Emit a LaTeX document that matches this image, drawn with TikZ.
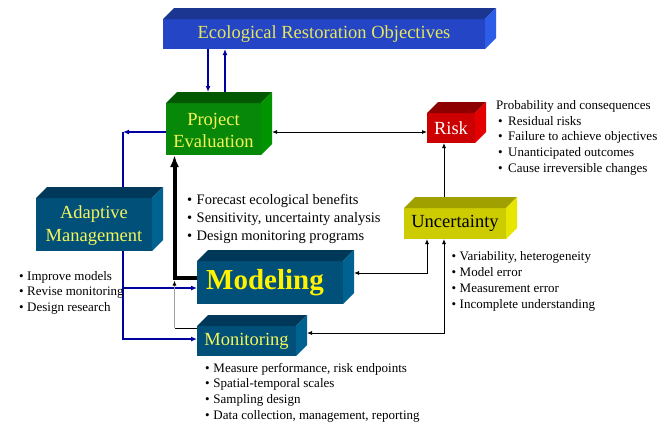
\documentclass[tikz,border=0pt]{standalone}
\usepackage{fontspec}
\setmainfont{Liberation Serif}
\usetikzlibrary{arrows.meta,calc}
\definecolor{eroF}{HTML}{2446C6}
\definecolor{eroTop}{HTML}{1A3690}
\definecolor{eroSide}{HTML}{2C5CE8}
\definecolor{eroT}{HTML}{E6E65C}
\definecolor{peF}{HTML}{088808}
\definecolor{peTop}{HTML}{005800}
\definecolor{peSide}{HTML}{009400}
\definecolor{tealF}{HTML}{00507A}
\definecolor{tealTop}{HTML}{00385A}
\definecolor{tealSide}{HTML}{006290}
\definecolor{uncF}{HTML}{CCCC00}
\definecolor{uncTop}{HTML}{A0A000}
\definecolor{uncSide}{HTML}{E6E600}
\definecolor{riskF}{HTML}{CC0000}
\definecolor{riskTop}{HTML}{8E0000}
\definecolor{riskSide}{HTML}{E40000}
\definecolor{boxT}{HTML}{F5F55A}
\definecolor{navy}{HTML}{0000A0}
\definecolor{lgray}{HTML}{A0A0A0}
\newcommand{\cubefaces}[3]{%
  \fill[#2] (#1.north west) -- ++(11,-11) -- ($(#1.north east)+(11,-11)$) -- (#1.north east) -- cycle;
  \fill[#3] (#1.north east) -- ++(11,-11) -- ($(#1.south east)+(11,-11)$) -- (#1.south east) -- cycle;}
\newcommand{\bulit}[1]{\makebox[#1][l]{\textbullet}}
\begin{document}
\begin{tikzpicture}[x=1pt,y=-1pt,
  box/.style={inner sep=0pt, outer sep=0pt, align=center, font=\fontsize{18.5}{22.5}\selectfont},
  nav/.style={draw=navy, line width=2pt},
  navarrow/.style={nav, -{Latex[length=6pt,width=5pt]}},
  thinline/.style={draw=black, line width=0.8pt},
  thinarrow/.style={thinline, -{Latex[length=5pt,width=4pt]}},
  thinboth/.style={thinline, {Latex[length=5pt,width=4pt]}-{Latex[length=5pt,width=4pt]}},
  thickarrow/.style={draw=black, line width=4pt, -{Latex[length=12pt,width=9pt]}},
  lst/.style={anchor=base west, align=left, inner sep=0pt, font=\fontsize{13}{15.8}\selectfont}]
\fill[white] (0,0) rectangle (668,424);
\useasboundingbox (0,0) rectangle (668,424);

% boxes
\node[box, fill=eroF, text=eroT, minimum width=322pt, minimum height=30pt] (ero) at (324,34) {Ecological Restoration Objectives};
\cubefaces{ero}{eroTop}{eroSide}
\node[box, fill=peF, text=boxT, minimum width=95pt, minimum height=52pt] (pe) at (213.5,129) {\rule{0pt}{15pt}Project\\Evaluation};
\cubefaces{pe}{peTop}{peSide}
\node[box, fill=tealF, text=boxT, minimum width=116pt, minimum height=53pt] (am) at (94,224.5) {\rule{0pt}{15pt}Adaptive\\Management};
\cubefaces{am}{tealTop}{tealSide}
\node[box, fill=tealF, text=yellow, minimum width=146pt, minimum height=43pt, font=\fontsize{29}{32}\selectfont\bfseries] (mod) at (270,282.5) {Modeling\hspace*{10pt}};
\cubefaces{mod}{tealTop}{tealSide}
\node[box, fill=tealF, text=boxT, minimum width=99pt, minimum height=30pt] (mon) at (246.5,341) {Monitoring};
\cubefaces{mon}{tealTop}{tealSide}
\node[box, fill=uncF, text=black, minimum width=102pt, minimum height=31pt] (unc) at (455,223.5) {Uncertainty};
\cubefaces{unc}{uncTop}{uncSide}
\node[box, fill=riskF, text=white, minimum width=48pt, minimum height=30pt] (risk) at (451,128) {Risk};
\cubefaces{risk}{riskTop}{riskSide}

% anchor coordinates
\coordinate (peT1) at ($(pe.north)+(-5.5,-11)$);
\coordinate (peT2) at ($(pe.north)+(11.5,-11)$);
\coordinate (peW) at ($(pe.west)+(0,3)$);
\coordinate (peE) at ($(pe.east)+(11,3)$);
\coordinate (peB) at ($(pe.south)+(-39,0)$);
\coordinate (amT) at ($(am.north)+(29,-11)$);
\coordinate (amB) at ($(am.south)+(29,0)$);
\coordinate (modW) at ($(mod.west)+(0,5.5)$);
\coordinate (modW2) at ($(mod.west)+(0,-4.5)$);
\coordinate (modW3) at ($(mod.west)+(0,-2)$);
\coordinate (modE) at ($(mod.east)+(11,-9.5)$);
\coordinate (monW) at ($(mon.west)+(0,-2)$);
\coordinate (monW2) at ($(mon.west)+(0,-13)$);
\coordinate (monE) at ($(mon.east)+(11,-8)$);
\coordinate (uncB1) at ($(unc.south)+(-28,0)$);
\coordinate (uncB2) at ($(unc.south)+(-11,0)$);
\coordinate (uncT) at ($(unc.north)+(-11,-11)$);

% connectors
\draw[navarrow] (peT1 |- ero.south) -- (peT1);
\draw[navarrow] (peT2) -- (peT2 |- ero.south);
\draw[nav] (amT |- peW) -- (amT);
\draw[navarrow] (peW) -- (amT |- peW);
\draw[navarrow] (amB) |- (monW);
\draw[navarrow] (amB |- modW) -- (modW);
\draw[thickarrow] (modW2) -| (peB);
\draw[thinline] (monW2) -- (peB |- monW2);
\draw[draw=lgray, line width=1.2pt, -{Latex[length=5pt,width=4pt,black]}] (peB |- monW2) -- (peB |- modW3);
\draw[thinboth] (uncB1) |- (modE);
\draw[thinboth] (uncB2) |- (monE);
\draw[thinarrow] (uncT) -- (uncT |- risk.south);
\draw[thinboth] (peE) -- (peE -| risk.west);

% text lists (base = baseline of last line)
\node[lst, font=\fontsize{14.5}{17.9}\selectfont] (mlist) at (187,240.5) {\bulit{9.5pt}Forecast ecological benefits\\\bulit{9.5pt}Sensitivity, uncertainty analysis\\\bulit{9.5pt}Design monitoring programs};
\node[lst] (rlist) at (496,172.5) {Probability and consequences\\\hspace*{2pt}\bulit{10pt}Residual risks\\\hspace*{2pt}\bulit{10pt}Failure to achieve objectives\\\hspace*{2pt}\bulit{10pt}Unanticipated outcomes\\\hspace*{2pt}\bulit{10pt}Cause irreversible changes};
\node[lst, font=\fontsize{13}{15.6}\selectfont] (alist) at (19,311.5) {\bulit{8pt}Improve models\\\bulit{8pt}Revise monitoring\\\bulit{8pt}Design research};
\node[lst] (ulist) at (451.5,308) {\bulit{8pt}Variability, heterogeneity\\\bulit{8pt}Model error\\\bulit{8pt}Measurement error\\\bulit{8pt}Incomplete understanding};
\node[lst] (molist) at (205,419.5) {\bulit{8.3pt}Measure performance, risk endpoints\\\bulit{8.3pt}Spatial-temporal scales\\\bulit{8.3pt}Sampling design\\\bulit{8.3pt}Data collection, management, reporting};
\end{tikzpicture}
\end{document}
